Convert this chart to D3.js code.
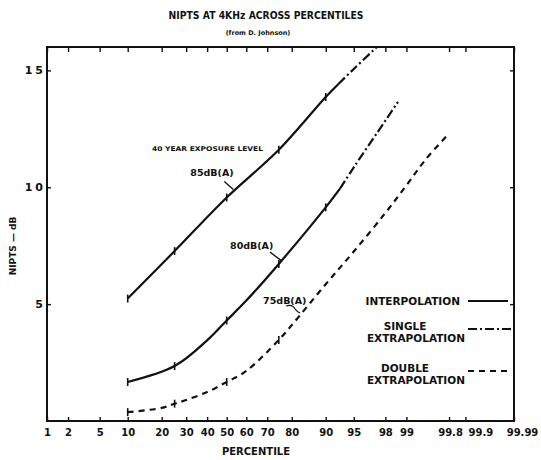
<!DOCTYPE html>
<html>
<head>
<meta charset="utf-8">
<script src="https://cdn.jsdelivr.net/npm/d3@7"></script>
<style>
  body { margin: 0; background: #fff; }
  svg text { font-family: "DejaVu Sans", "Liberation Sans", sans-serif; font-weight: bold; fill: #111; }
</style>
</head>
<body>
<svg id="chart" width="541" height="460"></svg>
<script>
// ---- data -------------------------------------------------------------
const percentileTicks  = [1, 2, 5, 10, 20, 30, 40, 50, 60, 70, 80, 90, 95, 98, 99, 99.8, 99.9, 99.99];
const percentileLabels = ["1", "2", "5", "10", "20", "30", "40", "50", "60", "70", "80", "90", "95", "98", "99", "99.8", "99.9", "99.99"];
const niptsTicks  = [5, 10, 15];
const niptsLabels = ["5", "10", "15"];

// 85 dB(A)
const interp85P = [10, 25, 50, 75, 90, 92.6];
const interp85V = [5.24, 7.27, 9.56, 11.6, 13.86, 14.42];
const single85P = [92.6, 95, 97.4];
const single85V = [14.42, 15.06, 16.0];

// 80 dB(A)
const interp80P = [10, 25, 40, 50, 60, 75, 90, 92.9];
const interp80V = [1.67, 2.35, 3.45, 4.3, 5.15, 6.72, 9.14, 9.95];
const single80P = [92.9, 95, 98, 98.67];
const single80V = [9.95, 10.85, 12.85, 13.65];

// 75 dB(A)
const double75P = [10, 20, 25, 30, 40, 50, 60, 75, 80, 90, 95, 98, 99, 99.5, 99.8];
const double75V = [0.38, 0.56, 0.74, 0.9, 1.24, 1.67, 2.14, 3.47, 4.1, 5.85, 7.25, 8.9, 10.08, 11.19, 12.3];

// measured percentiles marked on each curve
const markedP85 = [10, 25, 50, 75, 90];
const markedP80 = [10, 25, 50, 75, 90];
const markedP75 = [10, 25, 50, 75];

// curve labels: text, and the point on the curve the pointer touches
const curveLabels = ["85dB(A)", "80dB(A)", "75dB(A)"];
const labelTipP   = [53.4, 76.3, 82.9];
const labelTipV   = [9.9, 6.84, 4.62];

const legendLabels = [["INTERPOLATION"], ["SINGLE", "EXTRAPOLATION"], ["DOUBLE", "EXTRAPOLATION"]];

// ---- geometry -----------------------------------------------------------
const plotLeft = 47, plotRight = 514, plotTop = 47, plotBottom = 421;

// inverse of the standard normal CDF (Acklam)
function invNorm(p) {
  const a = [-3.969683028665376e+01, 2.209460984245205e+02, -2.759285104469687e+02, 1.383577518672690e+02, -3.066479806614716e+01, 2.506628277459239e+00];
  const b = [-5.447609879822406e+01, 1.615858368580409e+02, -1.556989798598866e+02, 6.680131188771972e+01, -1.328068155288572e+01];
  const c = [-7.784894002430293e-03, -3.223964580411365e-01, -2.400758277161838e+00, -2.549732539343734e+00, 4.374664141464968e+00, 2.938163982698783e+00];
  const d = [7.784695709041462e-03, 3.224671290700398e-01, 2.445134137142996e+00, 3.754408661907416e+00];
  const pl = 0.02425, ph = 1 - pl;
  let q, r;
  if (p < pl) {
    q = Math.sqrt(-2 * Math.log(p));
    return (((((c[0]*q+c[1])*q+c[2])*q+c[3])*q+c[4])*q+c[5]) / ((((d[0]*q+d[1])*q+d[2])*q+d[3])*q+1);
  } else if (p <= ph) {
    q = p - 0.5; r = q * q;
    return (((((a[0]*r+a[1])*r+a[2])*r+a[3])*r+a[4])*r+a[5])*q / (((((b[0]*r+b[1])*r+b[2])*r+b[3])*r+b[4])*r+1);
  } else {
    q = Math.sqrt(-2 * Math.log(1 - p));
    return -(((((c[0]*q+c[1])*q+c[2])*q+c[3])*q+c[4])*q+c[5]) / ((((d[0]*q+d[1])*q+d[2])*q+d[3])*q+1);
  }
}

// normal-probability scale for percentiles, usable by d3.axis
function probabilityScale(domain, range) {
  const lin = d3.scaleLinear().domain(domain.map(p => invNorm(p / 100))).range(range);
  const s = p => lin(invNorm(p / 100));
  s.domain = () => domain.slice();
  s.range = () => lin.range();
  s.copy = () => probabilityScale(domain, range);
  return s;
}

const x = probabilityScale([1, 99.99], [plotLeft, plotRight]);
const y = d3.scaleLinear().domain([0, 16]).range([plotBottom, plotTop]);

const svg = d3.select("#chart");

// ---- titles ---------------------------------------------------------------
svg.append("text").attr("x", 266).attr("y", 19).attr("text-anchor", "middle")
  .attr("font-size", 10).attr("textLength", 195).attr("lengthAdjust", "spacingAndGlyphs")
  .text("NIPTS AT 4KHz ACROSS PERCENTILES");
svg.append("text").attr("x", 258).attr("y", 35).attr("text-anchor", "middle")
  .attr("font-size", 6.5).text("(from D. Johnson)");

// ---- axes -------------------------------------------------------------------
const tickFmt = d => percentileLabels[percentileTicks.indexOf(d)];

const gBottom = svg.append("g").attr("transform", `translate(0,${plotBottom})`)
  .call(d3.axisBottom(x).tickValues(percentileTicks).tickFormat(tickFmt)
    .tickSizeInner(-4).tickSizeOuter(0).tickPadding(8));
gBottom.select(".domain").remove();
gBottom.selectAll("text").attr("font-size", 10).style("font-family", "'DejaVu Sans', sans-serif").style("font-weight", "bold");
// the crowded tail labels sit a little right of their ticks
gBottom.selectAll(".tick text").attr("dx", d => d === 99.9 ? 15 : d === 99.99 ? 8 : d === 99.8 ? 1 : 0);

const gTop = svg.append("g").attr("transform", `translate(0,${plotTop})`)
  .call(d3.axisTop(x).tickValues(percentileTicks).tickFormat("").tickSizeInner(-5).tickSizeOuter(0));
gTop.select(".domain").remove();

const gLeft = svg.append("g").attr("transform", `translate(${plotLeft},0)`)
  .call(d3.axisLeft(y).tickValues(niptsTicks).tickFormat(d => niptsLabels[niptsTicks.indexOf(d)])
    .tickSizeInner(-4).tickSizeOuter(0).tickPadding(1));
gLeft.select(".domain").remove();
gLeft.selectAll("text").attr("font-size", 11).attr("letter-spacing", 3)
  .style("font-family", "'DejaVu Sans', sans-serif").style("font-weight", "bold");

const gRight = svg.append("g").attr("transform", `translate(${plotRight},0)`)
  .call(d3.axisRight(y).tickValues(niptsTicks).tickFormat("").tickSizeInner(-4).tickSizeOuter(0));
gRight.select(".domain").remove();

svg.selectAll(".tick line").attr("stroke", "#111").attr("stroke-width", 1.4);

// frame
svg.append("rect").attr("x", plotLeft).attr("y", plotTop)
  .attr("width", plotRight - plotLeft).attr("height", plotBottom - plotTop)
  .attr("fill", "none").attr("stroke", "#111").attr("stroke-width", 2);

// axis titles
svg.append("text").attr("transform", "translate(16,246) rotate(-90)")
  .attr("text-anchor", "middle").attr("font-size", 9).text("NIPTS \u2014 dB");
svg.append("text").attr("x", 256).attr("y", 455).attr("text-anchor", "middle")
  .attr("font-size", 10).text("PERCENTILE");

// ---- curves -------------------------------------------------------------------
const line = d3.line().x(d => x(d[0])).y(d => y(d[1])).curve(d3.curveCatmullRom.alpha(0.5));
const styles = {
  interp: null,
  single: "9,3,2,3",
  double: "6,5"
};
const segments = [
  { p: interp85P, v: interp85V, style: "interp" },
  { p: single85P, v: single85V, style: "single" },
  { p: interp80P, v: interp80V, style: "interp" },
  { p: single80P, v: single80V, style: "single" },
  { p: double75P, v: double75V, style: "double" }
];
svg.append("g").selectAll("path").data(segments).join("path")
  .attr("d", s => line(s.p.map((p, i) => [p, s.v[i]])))
  .attr("fill", "none").attr("stroke", "#111").attr("stroke-width", 2.2)
  .attr("stroke-dasharray", s => styles[s.style]);

// measured-point markers
const markerSets = [
  { marked: markedP85, p: interp85P, v: interp85V },
  { marked: markedP80, p: interp80P, v: interp80V },
  { marked: markedP75, p: double75P, v: double75V }
];
const markers = markerSets.flatMap(m => m.marked.map(p => [p, m.v[m.p.indexOf(p)]]));
svg.append("g").selectAll("line").data(markers).join("line")
  .attr("x1", d => x(d[0])).attr("x2", d => x(d[0]))
  .attr("y1", d => y(d[1]) - 4).attr("y2", d => y(d[1]) + 4)
  .attr("stroke", "#111").attr("stroke-width", 1.6);

// ---- annotations ----------------------------------------------------------------
svg.append("text").attr("x", 152).attr("y", 151).attr("font-size", 6.5)
  .attr("textLength", 111).attr("lengthAdjust", "spacingAndGlyphs")
  .text("40 YEAR EXPOSURE LEVEL");

const labelOffsets = [[-43, -14, -9, -8], [-52, -12, -12, -9], [-37, -9, -14, -7]];
curveLabels.forEach((txt, i) => {
  const tx = x(labelTipP[i]), ty = y(labelTipV[i]);
  const [lx, ly, ax, ay] = labelOffsets[i];
  svg.append("text").attr("x", tx + lx).attr("y", ty + ly).attr("font-size", 9.5).text(txt);
  if (i === 2) {
    svg.append("path")
      .attr("d", `M${tx + ax},${ty + ay} q6,-2 9,3 q2,3 5,4`)
      .attr("fill", "none").attr("stroke", "#111").attr("stroke-width", 1.3);
  } else {
    svg.append("line").attr("x1", tx + ax).attr("y1", ty + ay).attr("x2", tx).attr("y2", ty)
      .attr("stroke", "#111").attr("stroke-width", 1.3);
  }
});

// ---- legend ------------------------------------------------------------------------
const legendStyles = ["interp", "single", "double"];
const legendLineY = [301, 329, 371];
const legendLineX2 = [508, 512, 512];
legendLabels.forEach((lines, i) => {
  const ly = legendLineY[i];
  if (lines.length === 1) {
    svg.append("text").attr("x", 460).attr("y", ly + 4).attr("text-anchor", "end")
      .attr("font-size", 10.5).text(lines[0]);
  } else {
    svg.append("text").attr("x", 405).attr("y", ly + 1).attr("text-anchor", "middle")
      .attr("font-size", 10.5).text(lines[0]);
    svg.append("text").attr("x", 465).attr("y", ly + 13).attr("text-anchor", "end")
      .attr("font-size", 10.5).text(lines[1]);
  }
  svg.append("line").attr("x1", 468).attr("x2", legendLineX2[i]).attr("y1", ly).attr("y2", ly)
    .attr("stroke", "#111").attr("stroke-width", 2.2)
    .attr("stroke-dasharray", styles[legendStyles[i]]);
});
</script>
</body>
</html>
